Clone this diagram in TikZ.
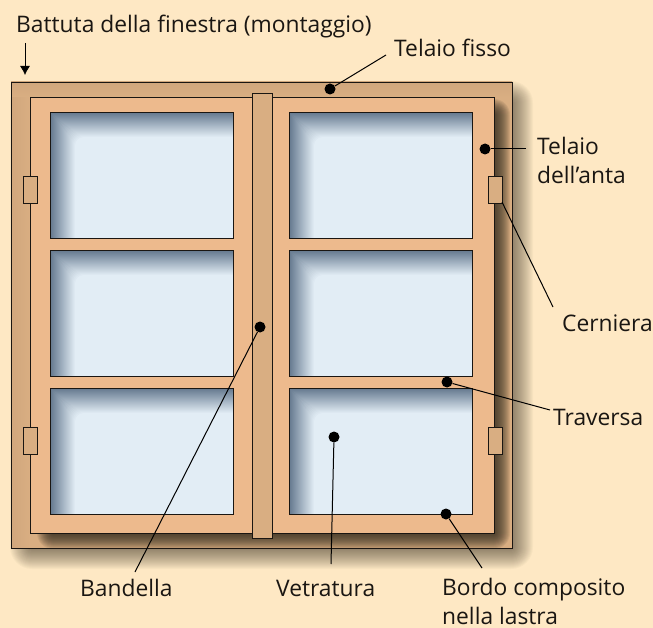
\documentclass[tikz,border=0pt]{standalone}
\usepackage{fontspec}
\setmainfont{Open Sans}
\usetikzlibrary{arrows.meta}
\usetikzlibrary{positioning}
\definecolor{windowbg}{RGB}{254,232,196}
\definecolor{framefixed}{RGB}{217,174,130}
\definecolor{framesash}{RGB}{237,186,141}
\definecolor{panelight}{RGB}{226,237,245}
\definecolor{panedark}{RGB}{100,120,142}
\definecolor{inkdark}{RGB}{26,22,18}
\definecolor{shadowdark}{RGB}{50,42,30}
\tikzset{
  outline/.style={draw=inkdark, line width=0.9pt},
  hinge/.style={outline, fill=framefixed},
  dotmark/.style={circle, fill=black, inner sep=0pt, minimum size=11pt},
  leader/.style={black, line width=1pt},
  caption/.style={text=inkdark, inner sep=0pt, align=left, anchor=base west, font=\fontsize{22.8}{29}\selectfont},
}
% x, y of the top left corner of a pane
\newcommand{\pane}[2]{
  \begin{scope}
  \clip (#1,#2) rectangle ({#1+183},{#2+126});
  \foreach \i [evaluate=\i as \m using int(\i*4), evaluate=\i as \r using 0.35*\i] in {0,...,25}
    \fill[panelight!\m!panedark, rounded corners=\r pt] ({#1+\i},{#2+\i}) rectangle ({#1+233},{#2+176});
  \end{scope}
  \draw[outline] (#1,#2) rectangle ({#1+183},{#2+126});
}
\begin{document}
\begin{tikzpicture}[x=1pt, y=-1pt]
\useasboundingbox (0,0) rectangle (653,628);
\fill[windowbg] (0,0) rectangle (653,628);

% shadow of the fixed frame
\foreach \i in {0,...,22}
  \fill[shadowdark, opacity=0.03, rounded corners=\i pt] ({32-\i},{103-\i}) rectangle ({511+\i},{547+\i});

\fill[framefixed] (11,82) rectangle (512,548);
\shade[left color=framefixed!96!black, right color=framefixed] (11,82) rectangle (30,548);
\shade[top color=framefixed!96!black, bottom color=framefixed] (11,82) rectangle (512,97);

% shadow of the sash
\begin{scope}
\clip (11,82) rectangle (512,548);
\foreach \i in {0,...,16}
  \fill[shadowdark, opacity=0.09, rounded corners=\i pt] ({53-\i},{115-\i}) rectangle ({494+\i},{533+\i});
\end{scope}
\draw[outline] (11,82) rectangle (512,548);

\fill[framesash] (30,97) rectangle (494,533);
\draw[outline] (30,97) rectangle (494,533);

\pane{50}{112}
\pane{50}{250}
\pane{50}{388}
\pane{289}{112}
\pane{289}{250}
\pane{289}{388}

\draw[hinge] (252,93) rectangle (272,538);
\draw[hinge] (23,176) rectangle (37,203);
\draw[hinge] (23,427) rectangle (37,454);
\draw[hinge] (488,176) rectangle (502,203);
\draw[hinge] (488,427) rectangle (502,454);

\node[caption] (battuta) at (16,33) {Battuta della finestra (montaggio)};
\node[caption] (fisso) at (394,57) {Telaio fisso};
\node[caption] (anta) at (537,184) {Telaio\\dell’anta};
\node[caption] (cerniera) at (562,331) {Cerniera};
\node[caption] (traversa) at (553,425) {Traversa};
\node[caption] (bordo) at (442,624) {Bordo composito\\nella lastra};
\node[caption] (vetratura) at (276,596) {Vetratura};
\node[caption] (bandella) at (80,596) {Bandella};

\node[dotmark] (dotfisso) at (330,89) {};
\node[dotmark] (dotanta) at (485,149) {};
\node[dotmark] (dottraversa) at (447,382) {};
\node[dotmark] (dotbordo) at (446,514) {};
\node[dotmark] (dotvetro) at (334,437) {};
\node[dotmark] (dotbandella) at (260,327) {};

\coordinate (arrowtop) at (25,43);
\coordinate (arrowend) at (25,75);
\coordinate (hingecorner) at (502,202);
\coordinate (endfisso) at (386,55);
\coordinate (endanta) at (526,149);
\coordinate (endcerniera) at (553,307);
\coordinate (endtraversa) at (550,410);
\coordinate (endbordo) at (482,568);
\coordinate (endvetro) at (331,564);
\coordinate (endbandella) at (135,572);

\draw[-{Latex[length=9pt,width=10pt]}, black, line width=0.8pt] (arrowtop) -- (arrowend);
\draw[leader] (dotfisso) -- (endfisso);
\draw[leader] (dotanta) -- (endanta);
\draw[leader] (hingecorner) -- (endcerniera);
\draw[leader] (dottraversa) -- (endtraversa);
\draw[leader] (dotbordo) -- (endbordo);
\draw[leader] (dotvetro) -- (endvetro);
\draw[leader] (dotbandella) -- (endbandella);

\end{tikzpicture}
\end{document}
